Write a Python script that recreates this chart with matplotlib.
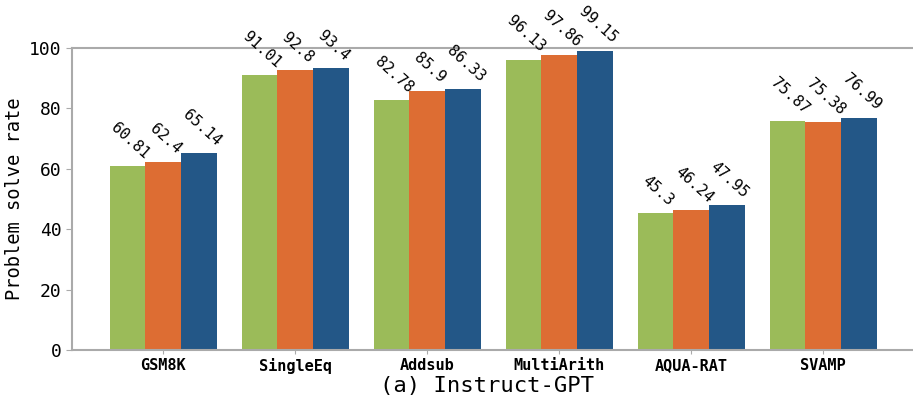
import numpy as np
import matplotlib
matplotlib.use("Agg")
import matplotlib.pyplot as plt

plt.rcParams['font.family'] = ['DejaVu Sans Mono']

# data
datasets = ["GSM8K", "SingleEq", "Addsub", "MultiArith", "AQUA-RAT", "SVAMP"]
s1 = [60.81, 91.01, 82.78, 96.13, 45.3, 75.87]
s2 = [62.4, 92.8, 85.9, 97.86, 46.24, 75.38]
s3 = [65.14, 93.4, 86.33, 99.15, 47.95, 76.99]
series = [s1, s2, s3]
colors = ["#9BBB59", "#DD6D33", "#235787"]

fig = plt.figure(figsize=(9.13, 4.04), dpi=100)
ax = fig.add_axes([0.079, 0.134, 0.921, 0.747])

x = np.arange(len(datasets))
w = 0.27
for k, (vals, c) in enumerate(zip(series, colors)):
    pos = x + (k - 1) * w
    ax.bar(pos, vals, width=w, color=c)
    for px, v in zip(pos, vals):
        ax.text(px + 0.02, v + 1.5, f"{v:g}", rotation=-42, ha='center', va='bottom',
                fontsize=11)

ax.set_xlim(-0.69, 5.68)
ax.set_ylim(0, 100)
ax.set_xticks(x)
ax.set_xticklabels(datasets, fontsize=11, fontweight='bold')
ax.set_yticks([0, 20, 40, 60, 80, 100])
ax.tick_params(axis='y', labelsize=13, color='#aaaaaa', length=4)
ax.tick_params(axis='x', color='#aaaaaa', length=3, pad=3)
ax.set_ylabel("Problem solve rate", fontsize=13.5)
for sp in ['left', 'bottom', 'top']:
    ax.spines[sp].set_color('#aaaaaa')
    ax.spines[sp].set_linewidth(1.5)
ax.spines['right'].set_visible(False)

fig.text(0.533, 0.02, "(a) Instruct-GPT", ha='center', va='bottom', fontsize=16)

fig.savefig("out.png", dpi=100)
